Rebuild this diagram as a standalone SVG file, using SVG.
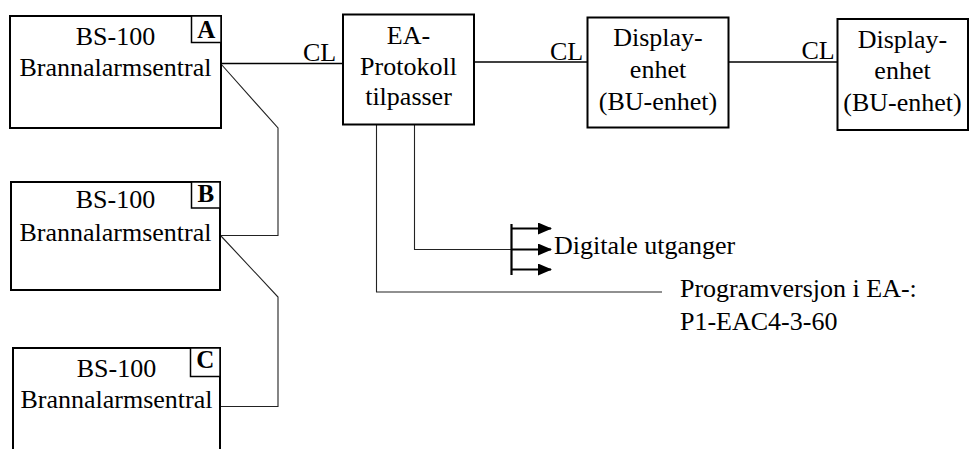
<svg xmlns="http://www.w3.org/2000/svg" width="970" height="449" viewBox="0 0 970 449">
<style>
.box{fill:#fff;stroke:#000;stroke-width:2}
.tag{fill:#fff;stroke:#000;stroke-width:1.5}
.t{font-family:"Liberation Serif","Times New Roman",serif;font-size:26px;fill:#000}
.c{text-anchor:middle}
.b{font-family:"Liberation Serif","Times New Roman",serif;font-size:25px;font-weight:bold;text-anchor:middle;fill:#000}
.ln{fill:none;stroke:#000;stroke-width:1.6}
.th{fill:none;stroke:#222;stroke-width:1.1}
.ar{fill:none;stroke:#000;stroke-width:2.2}
</style>
<defs>
<marker id="ah" markerWidth="14" markerHeight="12" refX="13" refY="6" orient="auto" markerUnits="userSpaceOnUse">
<path d="M0,0 L14,6 L0,12 Z" fill="#000"/>
</marker>
</defs>
<g id="connectors">
<line class="ln" x1="221" y1="63.5" x2="343" y2="63.5"/>
<line class="ln" x1="474" y1="62" x2="587" y2="62"/>
<line class="ln" x1="728" y1="62" x2="837" y2="62"/>
<polyline class="th" points="221,64 278,128 278,235.5 221,235.5"/>
<polyline class="th" points="221,236 278,297 278,406.5 220,406.5"/>
<polyline class="th" points="414.5,124 414.5,249.5 511,249.5"/>
<polyline class="th" points="376.5,124 376.5,292 662,292"/>
<line class="ar" x1="511.5" y1="224" x2="511.5" y2="275"/>
<line class="ar" x1="511" y1="228.5" x2="551" y2="228.5" marker-end="url(#ah)"/>
<line class="ar" x1="511" y1="249.5" x2="551" y2="249.5" marker-end="url(#ah)"/>
<line class="ar" x1="511" y1="269.5" x2="551" y2="269.5" marker-end="url(#ah)"/>
<text class="t" x="303" y="61">CL</text>
<text class="t" x="550" y="59.5">CL</text>
<text class="t" x="801.5" y="59">CL</text>
</g>
<g id="nodeA">
<rect class="box" x="10" y="16" width="211" height="112"/>
<rect class="tag" x="191.5" y="16" width="29.5" height="26.5"/>
<text class="b" x="206.3" y="37.5">A</text>
<text class="t c" x="115.5" y="45">BS-100</text>
<text class="t c" x="115.5" y="76">Brannalarmsentral</text>
</g>
<g id="nodeB">
<rect class="box" x="11" y="182" width="209" height="108"/>
<rect class="tag" x="191.5" y="182" width="28.5" height="26"/>
<text class="b" x="205.8" y="202">B</text>
<text class="t c" x="115.5" y="208">BS-100</text>
<text class="t c" x="115.5" y="241">Brannalarmsentral</text>
</g>
<g id="nodeC">
<rect class="box" x="13" y="348" width="207" height="130"/>
<rect class="tag" x="190.5" y="348" width="29.5" height="28.5"/>
<text class="b" x="205.3" y="368">C</text>
<text class="t c" x="116.5" y="376.5">BS-100</text>
<text class="t c" x="116.5" y="408">Brannalarmsentral</text>
</g>
<g id="nodeEA">
<rect class="box" x="343" y="14.5" width="131" height="110"/>
<text class="t c" x="408.5" y="43.5">EA-</text>
<text class="t c" x="408.5" y="75">Protokoll</text>
<text class="t c" x="408.5" y="105">tilpasser</text>
</g>
<g id="nodeDisplay1">
<rect class="box" x="587.5" y="17.5" width="141" height="110"/>
<text class="t c" x="658" y="46">Display-</text>
<text class="t c" x="658" y="78">enhet</text>
<text class="t c" x="658" y="110">(BU-enhet)</text>
</g>
<g id="nodeDisplay2">
<rect class="box" x="837.5" y="19" width="130.5" height="111"/>
<text class="t c" x="902.5" y="48">Display-</text>
<text class="t c" x="902.5" y="79">enhet</text>
<text class="t c" x="902.5" y="111">(BU-enhet)</text>
</g>
<g id="labels">
<text class="t" x="554" y="253.5">Digitale utganger</text>
<text class="t" x="680" y="297">Programversjon i EA-:</text>
<text class="t" x="680" y="329.5">P1-EAC4-3-60</text>
</g>
</svg>
